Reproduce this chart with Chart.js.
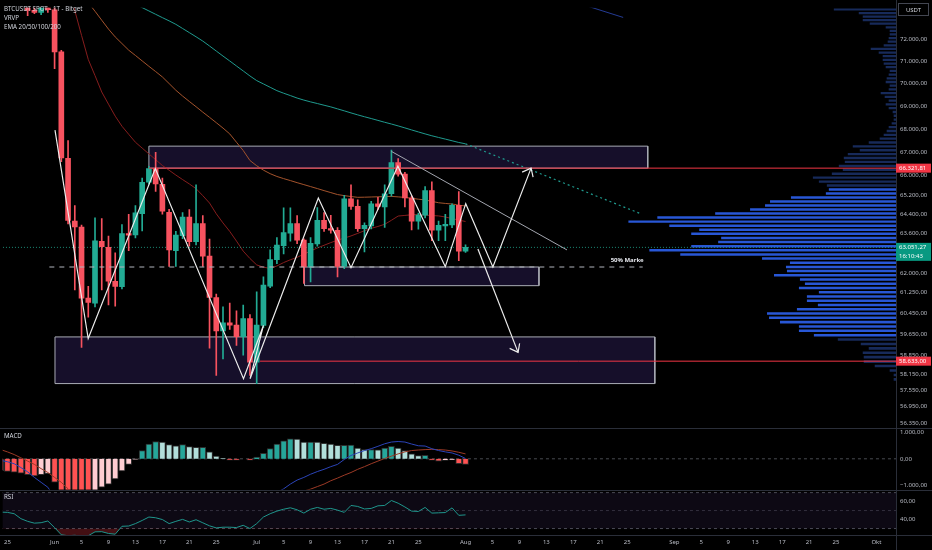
<!DOCTYPE html>
<html>
<head>
<meta charset="utf-8">
<script src="https://cdn.jsdelivr.net/npm/chart.js@4.4.1/dist/chart.umd.min.js"></script>
<style>
  html, body { margin: 0; padding: 0; background: #000; }
  #wrap { width: 932px; height: 550px; }
</style>
</head>
<body>
<div id="wrap"><canvas id="c" width="932" height="550"></canvas></div>
<script>
// day index: 0 = 1 Jun
const days = [-8,-7,-6,-5,-4,-3,-2,-1,0,1,2,3,4,5,6,7,8,9,10,11,12,13,14,15,16,17,18,19,20,21,22,23,24,25,26,27,28,29,30,31,32,33,34,35,36,37,38,39,40,41,42,43,44,45,46,47,48,49,50,51,52,53,54,55,56,57,58,59,60,61];

const opens = [77600,77200,76700,75900,74900,73350,73250,73500,73380,71430,66740,64119,63877,61038,60846,63293,63055,61694,61490,63613,63550,64425,65728,66308,65645,64480,62920,63520,64280,63277,64014,62699,61065,59773,60086,59999,59559,60249,58593,59985,61510,62554,63118,63625,64014,63345,62266,63186,64147,63813,63745,62290,65040,64726,63813,63919,64824,64700,65245,66559,66071,65069,64119,64363,65382,63745,63919,63960,64767,62898];
const highs = [78000,77800,77300,76400,75300,73800,73700,74200,73600,71500,67500,64755,63950,61500,64250,64220,63505,62830,63980,64390,64755,65905,66400,67000,65900,64600,63700,64470,64590,65616,64340,63385,61200,60700,60850,60550,60770,60400,61290,61876,62948,63450,64660,64660,64340,63400,63450,64676,64470,64350,63850,65180,65616,64995,64050,64930,65100,65616,67090,66725,66150,65150,64450,65546,65750,64119,64390,64830,65340,63150];
const lows = [76900,76400,75600,74600,73100,73200,73150,73250,70670,66600,64000,61358,59148,60300,60700,61358,60780,60730,61400,62920,63430,63720,65650,65340,64400,62290,62290,63400,63100,63150,62290,59122,58106,58715,59833,59222,58862,58106,57800,59900,61450,62400,62790,63300,63200,61616,61680,63100,63700,63630,61876,62200,64600,63700,62870,63800,64600,63860,65150,65980,64700,63760,63785,64250,63318,63318,63318,63850,62515,62850];
const closes = [77200,76700,75900,74900,73350,73250,73500,73380,71430,66752,64147,63877,61038,60873,63317,63080,61706,61500,63613,63545,64458,65728,66308,65657,64523,62950,63545,64280,63277,64014,62699,61065,59773,60086,59999,59559,60249,58593,59999,61551,62565,63146,63653,64014,63345,62266,63214,64147,63813,63745,62290,65040,64726,63813,63946,64824,64726,65245,66559,66071,65069,64119,64363,65382,63745,63946,63990,64767,62898,63051.27];

const ema20 = [77400,77500,77500,77400,77300,77200,77000,76900,76790,75690,74500,73340,72190,71085,70360,69625,69088,68560,68121,67771,67427,67177,66928,66684,66433,66233,66030,65840,65657,65459,65167,64860,64418,64042,63697,63305,62900,62604,62349,62259,62210,62306,62443,62553,62652,62778,62905,63027,63135,63243,63341,63425,63513,63617,63726,63822,63898,63987,64151,64325,64350,64378,64382,64362,64346,64330,64285,64220,64160,64100];
const ema50 = [78100,77900,77700,77500,77200,76900,76600,76250,75850,75418,74988,74565,74140,73711,73309,72891,72480,72116,71813,71511,71269,71022,70777,70541,70298,70002,69704,69446,69206,68975,68737,68508,68276,68040,67788,67427,67075,66647,66424,66237,66088,65971,65880,65798,65711,65628,65546,65463,65377,65295,65213,65168,65131,65098,65103,65112,65120,65128,65137,65116,65095,65058,65020,64990,64930,64873,64845,64820,64775,64735];
const ema100 = [76810,76650,76490,76330,76170,76010,75850,75694,75533,75372,75211,75054,74894,74735,74576,74421,74263,74105,73948,73795,73637,73480,73323,73167,73011,72860,72699,72507,72316,72124,71926,71700,71470,71241,71018,70791,70568,70342,70135,69985,69835,69686,69572,69467,69358,69267,69188,69115,69040,68967,68880,68793,68702,68616,68534,68456,68375,68293,68216,68134,68048,67959,67873,67788,67707,67634,67563,67491,67418,67360];

const macdHist = [-450,-470,-500,-540,-600,-640,-600,-560,-880,-1250,-1350,-1450,-1520,-1560,-1300,-1070,-950,-760,-455,-210,-20,310,555,650,625,530,490,530,455,430,430,260,100,15,-50,-50,0,-50,60,210,380,550,680,750,740,630,630,625,580,555,505,510,515,405,345,350,340,400,465,400,310,185,125,130,-50,-85,-60,-40,-185,-210];
const macdLine = [-60,-110,-185,-330,-490,-700,-885,-1070,-1450,-2150,-2800,-3300,-3650,-3850,-3860,-3660,-3530,-3310,-2955,-2640,-2370,-1970,-1640,-1440,-1370,-1370,-1330,-1300,-1310,-1300,-1290,-1410,-1560,-1640,-1700,-1700,-1650,-1680,-1600,-1480,-1370,-1260,-1130,-950,-800,-700,-580,-480,-395,-295,-210,-25,125,220,310,380,470,565,630,650,630,555,490,480,380,310,260,220,135,12];
const macdSignal = [345,260,160,37,-86,-210,-370,-515,-700,-885,-1130,-1800,-2200,-2450,-2560,-2590,-2580,-2550,-2500,-2430,-2350,-2280,-2190,-2090,-1990,-1900,-1830,-1800,-1760,-1720,-1690,-1670,-1660,-1650,-1650,-1650,-1640,-1630,-1610,-1580,-1540,-1480,-1420,-1350,-1280,-1210,-1140,-1045,-950,-825,-725,-615,-515,-395,-295,-185,-86,12,100,185,260,310,330,345,355,345,330,295,245,185];
const rsi = [48.3,48,46.5,41,38,36,36.5,38.4,31,23,22,22.5,21.5,22,26.3,26.5,24.5,23.7,32.5,32.8,35.5,39,42.8,42,40,35.5,38,40.2,37.3,39.8,36.4,33,30.7,31.5,31.5,31.1,33.6,30,35.5,42.8,46.5,49.4,51.5,53.1,50.9,47.2,51.5,53.5,51.5,52.4,50.5,48,55.7,54.6,51.8,52.4,55.3,55.7,61.2,58.2,54,49.4,49,53.5,47.2,47.5,47.8,53,44.7,45.2];
const rsiLevels = [70, 50, 30];

// visible range volume profile, rows from top to bottom
const vpTop = 73350, vpStep = 166, vaHigh = 65400, vaLow = 59500;
const vpVolume = [62,37,33,33,26,10,6,6,7,8,12,25,17,13,13,12,10,6,7,9,10,6,7,15,11,7,10,7,3,2,2,4,7,9,12,16,27,43,36,48,52,51,57,53,64,83,77,69,
  67,70,105,126,131,146,181,239,268,227,197,205,175,178,205,247,216,134,106,110,109,122,96,91,97,77,89,89,78,99,129,127,116,97,97,82,
  58,35,27,33,32,32,21,6,2,2];

// price axis ticks and time axis ticks
const priceTicks = [72000,71000,70000,69000,68000,67000,66000,65200,64400,63600,62800,62000,61250,60450,59650,58850,58150,57550,56950,56350];
const macdTicks = [1000, 0, -1000];
const rsiTicks = [60, 40];
const xTickDays = [-7,0,4,8,12,16,20,24,30,34,38,42,46,50,54,61,65,69,73,77,81,85,92,96,100,104,108,112,116,122];
const xTickLabels = ['25','Jun','5','9','13','17','21','25','Jul','5','9','13','17','21','25','Aug','5','9','13','17','21','25','Sep','5','9','13','17','21','25','Okt'];

// drawings
const zoneStart = [14, 37.1, 0.06];
const zoneEnd = [88.05, 71.9, 89.1];
const zoneHigh = [67260, 62266, 59547];
const zoneLow = [66322, 61528, 57800];
const levelPrices = [66321.81, 58633.00];
const levelStart = [14, 30.5];
const fiftyLevel = 62266, fiftyStart = -0.78, fiftyEnd = 87.3;
const lastPrice = 63051.27;
const zigDays = [0.06, 4.99, 14.95, 28.04, 31.0, 29.02, 39.15, 44.0, 50.96, 58.0, 61.03, 65.06, 70.73];
const zigPrices = [67955, 59484, 66308, 57980, 59985, 57980, 65069, 62239, 66404, 62278, 64836, 62266, 66322];
const upHeadDays = [69.4, 70.73, 71.03];
const upHeadPrices = [66155, 66322, 65946];
const downDays = [62.84, 68.8];
const downPrices = [62987, 58964];
const downHeadDays = [67.55, 68.8, 69.03];
const downHeadPrices = [59112, 58964, 59299];
const trendDays = [50.0, 76.06];
const trendPrices = [67034, 62948];
const emaExtDays = [61, 87];
const emaExtPrices = [67360, 64420];
const ema200Days = [78.9, 84.4];
const ema200Prices = [73570, 73020];

const UP = '#22ab94', DOWN = '#f7525f';
const FONT = "'Noto Sans', sans-serif";
const AXIS_TXT = '#b8bbc4';

function fmtDE(v, dec) {
  const neg = v < 0;
  let [i, f] = Math.abs(v).toFixed(dec).split('.');
  i = i.replace(/\B(?=(\d{3})+(?!\d))/g, '.');
  return (neg ? '\u2212' : '') + i + (dec ? ',' + f : '');
}
const pts = (xs, ys) => xs.map((x, i) => ({x: x, y: ys[i]}));

const candleCol = closes.map((c, i) => c >= opens[i] ? UP : DOWN);
const histCol = macdHist.map((v, i) => {
  const p = i ? macdHist[i - 1] : v + 1;
  if (v >= 0) return v >= p ? '#26a69a' : '#b2dfdb';
  return v <= p ? '#ff5252' : '#ffcdd2';
});
const vpPrice = vpVolume.map((_, i) => vpTop - i * vpStep);
const vpCol = vpPrice.map(p => (p <= vaHigh && p >= vaLow) ? '#2857d6' : '#172a5a');

const datasets = [];

// volume profile (horizontal bars on the price axis)
datasets.push({
  type: 'bar', indexAxis: 'y', xAxisID: 'xVol', yAxisID: 'y',
  data: vpVolume.map((v, i) => ({x: v, y: vpPrice[i]})),
  backgroundColor: vpCol, barThickness: 'flex', categoryPercentage: 1, barPercentage: 0.88,
  order: 100
});

// zones
zoneStart.forEach((x1, i) => {
  const x2 = zoneEnd[i], hi = zoneHigh[i], lo = zoneLow[i];
  datasets.push({
    type: 'line', yAxisID: 'y',
    data: [{x: x1, y: hi}, {x: x2, y: hi}, {x: x2, y: lo}, {x: x1, y: lo}, {x: x1, y: hi}],
    borderColor: '#a9acb5', borderWidth: 1, backgroundColor: '#160f2a', fill: 'shape', order: 90
  });
});

// EMAs
datasets.push({type: 'line', yAxisID: 'y', data: pts(days, ema100), borderColor: '#1f9a8e', borderWidth: 1, order: 45});
datasets.push({type: 'line', yAxisID: 'y', data: pts(emaExtDays, emaExtPrices), borderColor: '#1f9a8e', borderWidth: 1.2, borderDash: [2, 3], order: 45});
datasets.push({type: 'line', yAxisID: 'y', data: pts(ema200Days, ema200Prices), borderColor: '#243b94', borderWidth: 1, order: 45});
datasets.push({type: 'line', yAxisID: 'y', data: pts(days, ema50), borderColor: '#a3532c', borderWidth: 1, order: 44});
datasets.push({type: 'line', yAxisID: 'y', data: pts(days, ema20), borderColor: '#861d1d', borderWidth: 1, order: 43});

// current price dotted line
datasets.push({type: 'line', yAxisID: 'y', data: [{x: -9, y: lastPrice}, {x: 126, y: lastPrice}], borderColor: 'rgba(34,171,148,0.8)', borderWidth: 1, borderDash: [1, 2], order: 42});

// candles
datasets.push({
  type: 'bar', yAxisID: 'y', xAxisID: 'x',
  data: days.map((d, i) => ({x: d, y: [lows[i], highs[i]]})),
  backgroundColor: candleCol, barThickness: 1, grouped: false, order: 31
});
datasets.push({
  type: 'bar', yAxisID: 'y', xAxisID: 'x',
  data: days.map((d, i) => ({x: d, y: [opens[i], closes[i]]})),
  backgroundColor: candleCol, barThickness: 5, minBarLength: 1, grouped: false, order: 30
});

// levels and drawings
levelPrices.forEach((p, i) => {
  datasets.push({type: 'line', yAxisID: 'y', data: [{x: levelStart[i], y: p}, {x: 126, y: p}], borderColor: '#f23645', borderWidth: 1, order: 12});
});
datasets.push({type: 'line', yAxisID: 'y', data: [{x: fiftyStart, y: fiftyLevel}, {x: fiftyEnd, y: fiftyLevel}], borderColor: '#b2b5be', borderWidth: 1.2, borderDash: [5, 5], order: 11});
datasets.push({type: 'line', yAxisID: 'y', data: pts(trendDays, trendPrices), borderColor: '#a3a6af', borderWidth: 1, order: 11});
const white = {type: 'line', yAxisID: 'y', borderColor: '#ececec', borderWidth: 1.2, order: 10};
datasets.push(Object.assign({data: pts(zigDays, zigPrices)}, white));
datasets.push(Object.assign({data: pts(upHeadDays, upHeadPrices)}, white));
datasets.push(Object.assign({data: pts(downDays, downPrices)}, white));
datasets.push(Object.assign({data: pts(downHeadDays, downHeadPrices)}, white));

// MACD pane
datasets.push({type: 'line', yAxisID: 'yMacd', data: [{x: -9, y: 0}, {x: 126, y: 0}], borderColor: 'rgba(120,123,134,0.6)', borderWidth: 1, borderDash: [3, 3], order: 35});
datasets.push({
  type: 'bar', yAxisID: 'yMacd', xAxisID: 'x',
  data: pts(days, macdHist), backgroundColor: histCol, borderColor: '#2e2e2e', borderWidth: 1,
  barThickness: 6, grouped: false, order: 30
});
datasets.push({type: 'line', yAxisID: 'yMacd', data: pts(days, macdSignal), borderColor: '#9c3a26', borderWidth: 1, order: 21});
datasets.push({type: 'line', yAxisID: 'yMacd', data: pts(days, macdLine), borderColor: '#2b44b8', borderWidth: 1, order: 20});

// RSI pane
datasets.push({type: 'line', yAxisID: 'yRsi', data: [{x: -9, y: rsiLevels[0]}, {x: 126, y: rsiLevels[0]}], borderColor: 'rgba(120,123,134,0.6)', borderWidth: 1, borderDash: [3, 3], fill: '+1', backgroundColor: 'rgba(126,87,194,0.1)', order: 36});
datasets.push({type: 'line', yAxisID: 'yRsi', data: [{x: -9, y: rsiLevels[2]}, {x: 126, y: rsiLevels[2]}], borderColor: 'rgba(120,123,134,0.6)', borderWidth: 1, borderDash: [3, 3], order: 36});
datasets.push({type: 'line', yAxisID: 'yRsi', data: [{x: -9, y: rsiLevels[1]}, {x: 126, y: rsiLevels[1]}], borderColor: 'rgba(120,123,134,0.35)', borderWidth: 1, borderDash: [3, 3], order: 36});
datasets.push({
  type: 'line', yAxisID: 'yRsi', data: pts(days, rsi), borderColor: '#1f968c', borderWidth: 1,
  fill: {target: {value: 30}, above: 'rgba(0,0,0,0)', below: 'rgba(242,54,69,0.28)'}, order: 20
});

// clip every dataset to its own pane
const paneClip = {
  id: 'paneClip',
  beforeDatasetDraw(chart, args) {
    const ys = chart.scales[args.meta.yAxisID];
    const a = chart.chartArea;
    chart.ctx.save();
    chart.ctx.beginPath();
    chart.ctx.rect(a.left, ys.top, a.right - a.left, ys.bottom - ys.top);
    chart.ctx.clip();
  },
  afterDatasetDraw(chart) { chart.ctx.restore(); }
};

function tag(ctx, yPix, bg, lines) {
  const h = lines.length > 1 ? 18 : 9;
  const top = yPix - 4.5;
  ctx.fillStyle = bg;
  ctx.fillRect(896, top, 35, h);
  ctx.fillStyle = '#fff';
  ctx.textAlign = 'left';
  ctx.textBaseline = 'middle';
  lines.forEach((t, i) => ctx.fillText(t, 899, top + 4.7 + i * 8.5));
}

const overlay = {
  id: 'overlay',
  beforeDraw(chart) {
    const ctx = chart.ctx;
    ctx.save();
    ctx.fillStyle = '#000';
    ctx.fillRect(0, 0, chart.width, chart.height);
    ctx.restore();
  },
  afterDraw(chart) {
    const {ctx, scales} = chart;
    const y = scales.y, ym = scales.yMacd, yr = scales.yRsi, x = scales.x;
    ctx.save();
    ctx.strokeStyle = '#2a2e39';
    ctx.lineWidth = 1;
    ctx.beginPath();
    [y.bottom, ym.bottom, yr.bottom].forEach(v => {
      const r = Math.round(v) + 0.5;
      ctx.moveTo(0, r); ctx.lineTo(chart.width, r);
    });
    const vx = Math.round(y.left) + 0.5;
    ctx.moveTo(vx, 0); ctx.lineTo(vx, chart.height);
    ctx.stroke();

    ctx.font = '6.2px ' + FONT;
    ctx.fillStyle = '#d1d4dc';
    ctx.textAlign = 'left';
    ctx.textBaseline = 'middle';
    ctx.fillText('BTCUSDT SPOT - 1T - Bitget', 4, 9);
    ctx.fillText('VRVP', 4, 18.3);
    ctx.fillText('EMA 20/50/100/200', 4, 27.4);
    ctx.fillText('MACD', 4, ym.top + 9);
    ctx.fillText('RSI', 4, yr.top + 8);

    ctx.font = 'bold 6px ' + FONT;
    ctx.fillStyle = '#e6e8ee';
    ctx.textAlign = 'right';
    ctx.fillText('50% Marke', x.getPixelForValue(fiftyEnd) + 1, y.getPixelForValue(fiftyLevel) - 6.5);

    ctx.font = '6px ' + FONT;
    tag(ctx, y.getPixelForValue(levelPrices[0]), '#f23645', [fmtDE(levelPrices[0], 2)]);
    tag(ctx, y.getPixelForValue(lastPrice), '#089981', [fmtDE(lastPrice, 2), '16:10:43']);
    tag(ctx, y.getPixelForValue(levelPrices[1]), '#f23645', [fmtDE(levelPrices[1], 2)]);

    ctx.fillStyle = '#000';
    ctx.fillRect(898, 3, 31, 13);
    ctx.strokeStyle = '#434651';
    ctx.strokeRect(898.5, 3.5, 30, 12);
    ctx.fillStyle = '#d1d4dc';
    ctx.textAlign = 'center';
    ctx.fillText('USDT', 913.5, 9.8);
    ctx.restore();
  }
};

const tickFont = {family: FONT, size: 6};
function rightAxis(extra) {
  return Object.assign({
    position: 'right', stack: 'pane', offset: false,
    grid: {display: false, drawTicks: false}, border: {display: false},
    ticks: {color: AXIS_TXT, font: tickFont, padding: 4, autoSkip: false},
    afterFit(s) { s.width = 36; }
  }, extra);
}

new Chart(document.getElementById('c'), {
  type: 'bar',
  data: {datasets: datasets},
  plugins: [paneClip, overlay],
  options: {
    responsive: false,
    animation: false,
    events: [],
    layout: {padding: 0},
    elements: {point: {radius: 0}, line: {tension: 0}},
    plugins: {legend: {display: false}, tooltip: {enabled: false}},
    scales: {
      x: {
        type: 'linear', min: -7.74, max: 124.9, offset: false,
        grid: {display: false, drawTicks: false}, border: {display: false},
        afterBuildTicks(s) { s.ticks = xTickDays.map(v => ({value: v})); },
        afterFit(s) { s.height = 15; },
        ticks: {color: AXIS_TXT, font: tickFont, padding: 4, autoSkip: false, maxRotation: 0,
          callback: (v, i) => xTickLabels[i]}
      },
      xVol: {
        type: 'linear', display: false, reverse: true, min: 0, max: 896, offset: false,
        grid: {display: false}
      },
      y: rightAxis({
        type: 'logarithmic', min: 56200, max: 73480, stackWeight: 426,
        afterBuildTicks(s) { s.ticks = priceTicks.map(v => ({value: v})); },
        ticks: {color: AXIS_TXT, font: tickFont, padding: 4, autoSkip: false, callback: v => fmtDE(v, 2)}
      }),
      yMacd: rightAxis({
        type: 'linear', min: -1160, max: 1175, stackWeight: 63,
        afterBuildTicks(s) { s.ticks = macdTicks.map(v => ({value: v})); },
        ticks: {color: AXIS_TXT, font: tickFont, padding: 4, autoSkip: false, callback: v => fmtDE(v, 2)}
      }),
      yRsi: rightAxis({
        type: 'linear', min: 22.8, max: 73.3, stackWeight: 46,
        afterBuildTicks(s) { s.ticks = rsiTicks.map(v => ({value: v})); },
        ticks: {color: AXIS_TXT, font: tickFont, padding: 4, autoSkip: false, callback: v => fmtDE(v, 2)}
      })
    }
  }
});
</script>
</body>
</html>
